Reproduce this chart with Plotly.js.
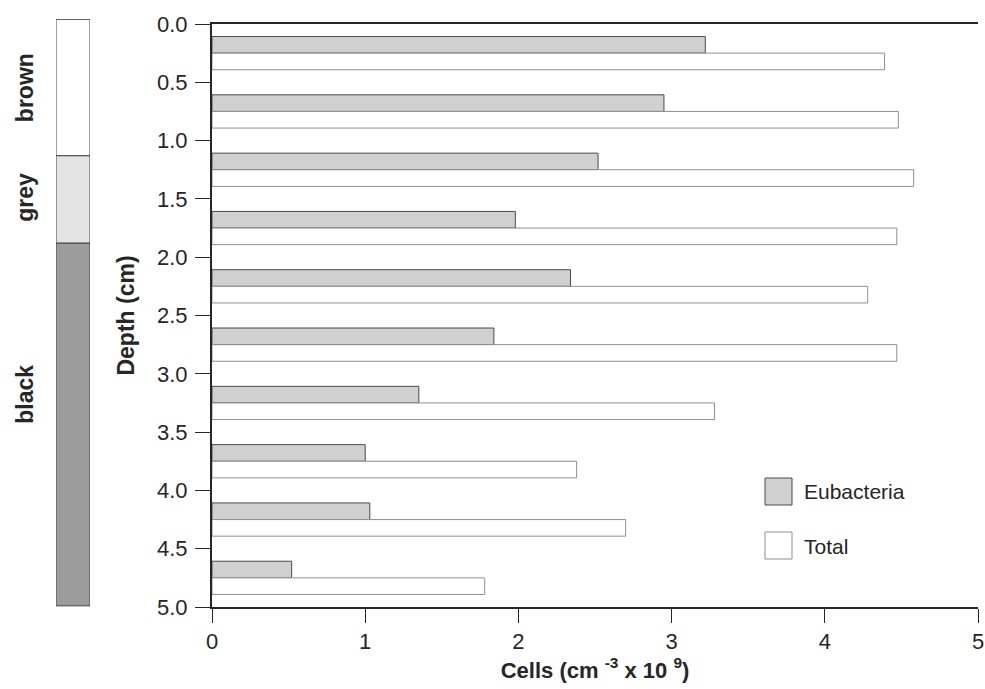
<!DOCTYPE html>
<html>
<head>
<meta charset="utf-8">
<script src="https://cdn.plot.ly/plotly-3.0.1.min.js"></script>
<style>
html,body{margin:0;padding:0;background:#fff;}
#chart{width:985px;height:689px;}
</style>
</head>
<body>
<div id="chart"></div>
<script>
// Depth intervals (cm), bar centres
const depthMid = [0.25, 0.75, 1.25, 1.75, 2.25, 2.75, 3.25, 3.75, 4.25, 4.75];
// Cells (cm^-3 x 10^9)
const eubacteria = [3.22, 2.95, 2.52, 1.98, 2.34, 1.84, 1.35, 1.00, 1.03, 0.52];
const total      = [4.39, 4.48, 4.58, 4.47, 4.28, 4.47, 3.28, 2.38, 2.70, 1.78];
const seriesNames = ['Eubacteria', 'Total'];

// Sediment colour layers (depth, cm)
const layerNames  = ['brown', 'grey', 'black'];
const layerTop    = [-0.04, 1.13, 1.88];
const layerBottom = [1.13, 1.88, 4.99];
const layerLabelDepth = [0.55, 1.49, 3.18];

const xTicks = [0, 1, 2, 3, 4, 5];
const yTicks = [0, 0.5, 1, 1.5, 2, 2.5, 3, 3.5, 4, 4.5, 5];

const FONT = 'Liberation Sans, Arial, Helvetica, sans-serif';
const INK = '#262626';

const seriesFill = ['#d0d0d0', '#ffffff'];
const seriesLine = ['#4a4a4a', '#8f8f8f'];
const layerFill = ['#ffffff', '#e3e3e3', '#9c9c9c'];

const traces = [
  {
    type: 'bar', orientation: 'h', name: seriesNames[0],
    x: eubacteria, y: depthMid, xaxis: 'x', yaxis: 'y',
    marker: {color: seriesFill[0], line: {color: seriesLine[0], width: 1}},
    showlegend: false, hoverinfo: 'x+y'
  },
  {
    type: 'bar', orientation: 'h', name: seriesNames[1],
    x: total, y: depthMid, xaxis: 'x', yaxis: 'y',
    marker: {color: seriesFill[1], line: {color: seriesLine[1], width: 1}},
    showlegend: false, hoverinfo: 'x+y'
  },
  {
    type: 'bar', orientation: 'v', showlegend: false,
    x: layerNames.map(() => 'strip'),
    y: layerBottom.map((b, i) => b - layerTop[i]),
    base: layerTop,
    width: 1,
    xaxis: 'x2', yaxis: 'y2',
    marker: {color: layerFill, line: {color: '#444444', width: 1}},
    hoverinfo: 'skip'
  }
];

const W = 985, H = 689, L = 50, R = 0, T = 19, B = 82;
const plotW = W - L - R, plotH = H - T - B;
const px = p => (p - L) / plotW;
const py = p => 1 - (p - T) / plotH;

const annotations = layerNames.map((n, i) => ({
  text: n, xref: 'paper', yref: 'y2', x: px(25), y: layerLabelDepth[i],
  textangle: -90, showarrow: false,
  font: {family: FONT, size: 23, color: INK, weight: 'bold'},
  xanchor: 'center', yanchor: 'middle'
}));

// custom legend (large swatches like the original)
const legendTop = [478, 532];
const legendTextY = [492, 546];
const shapes = [];
seriesNames.forEach((n, i) => {
  shapes.push({
    type: 'rect', xref: 'paper', yref: 'paper',
    x0: px(765), x1: px(792), y0: py(legendTop[i]), y1: py(legendTop[i] + 27),
    fillcolor: seriesFill[i], line: {color: seriesLine[i], width: 1}
  });
  annotations.push({
    text: n, xref: 'paper', yref: 'paper', x: px(802), y: py(legendTextY[i]),
    xanchor: 'left', yanchor: 'middle', showarrow: false,
    font: {family: FONT, size: 21, color: INK}
  });
});

const layout = {
  width: W, height: H,
  margin: {l: L, r: R, t: T, b: B},
  paper_bgcolor: '#ffffff', plot_bgcolor: 'rgba(0,0,0,0)',
  font: {family: FONT, color: INK, size: 21},
  barmode: 'group', bargap: 0.43, bargroupgap: 0,
  showlegend: false,
  xaxis: {
    domain: [px(212), px(978)], range: [0, 5],
    tickvals: xTicks, ticktext: xTicks.map(String),
    ticks: 'outside', ticklen: 14, tickwidth: 1, tickcolor: INK,
    showline: true, linecolor: INK, linewidth: 2, mirror: true,
    showgrid: false, zeroline: false, ticklabeloverflow: 'allow',
    tickfont: {family: FONT, size: 22, color: INK},
    title: {text: 'Cells (cm <sup>-3</sup> x 10 <sup>9</sup>)', standoff: 6,
            font: {family: FONT, size: 22, color: INK, weight: 'bold'}},
    anchor: 'y', fixedrange: true
  },
  xaxis2: {
    domain: [px(56), px(90)], range: [-0.5, 0.5], type: 'category',
    showline: false, showgrid: false, zeroline: false, showticklabels: false,
    ticks: '', anchor: 'y2', fixedrange: true
  },
  yaxis: {
    domain: [0, py(24)],
    range: [5, 0], anchor: 'x',
    tickvals: yTicks, ticktext: yTicks.map(v => v.toFixed(1)),
    ticks: 'outside', ticklen: 15, tickwidth: 1, tickcolor: INK,
    showline: true, linecolor: INK, linewidth: 2, mirror: false,
    showgrid: false, zeroline: false, ticklabelstandoff: 3,
    tickfont: {family: FONT, size: 22, color: INK},
    title: {text: 'Depth (cm)', standoff: 16,
            font: {family: FONT, size: 23, color: INK, weight: 'bold'}},
    fixedrange: true
  },
  yaxis2: {
    domain: [0, 1], range: [5, -5 * (24 - 19) / (607 - 24)],
    anchor: 'x2', showline: false, showgrid: false, zeroline: false,
    showticklabels: false, ticks: '', fixedrange: true
  },
  shapes: shapes,
  annotations: annotations
};

Plotly.newPlot('chart', traces, layout, {displayModeBar: false, staticPlot: true});
</script>
</body>
</html>
